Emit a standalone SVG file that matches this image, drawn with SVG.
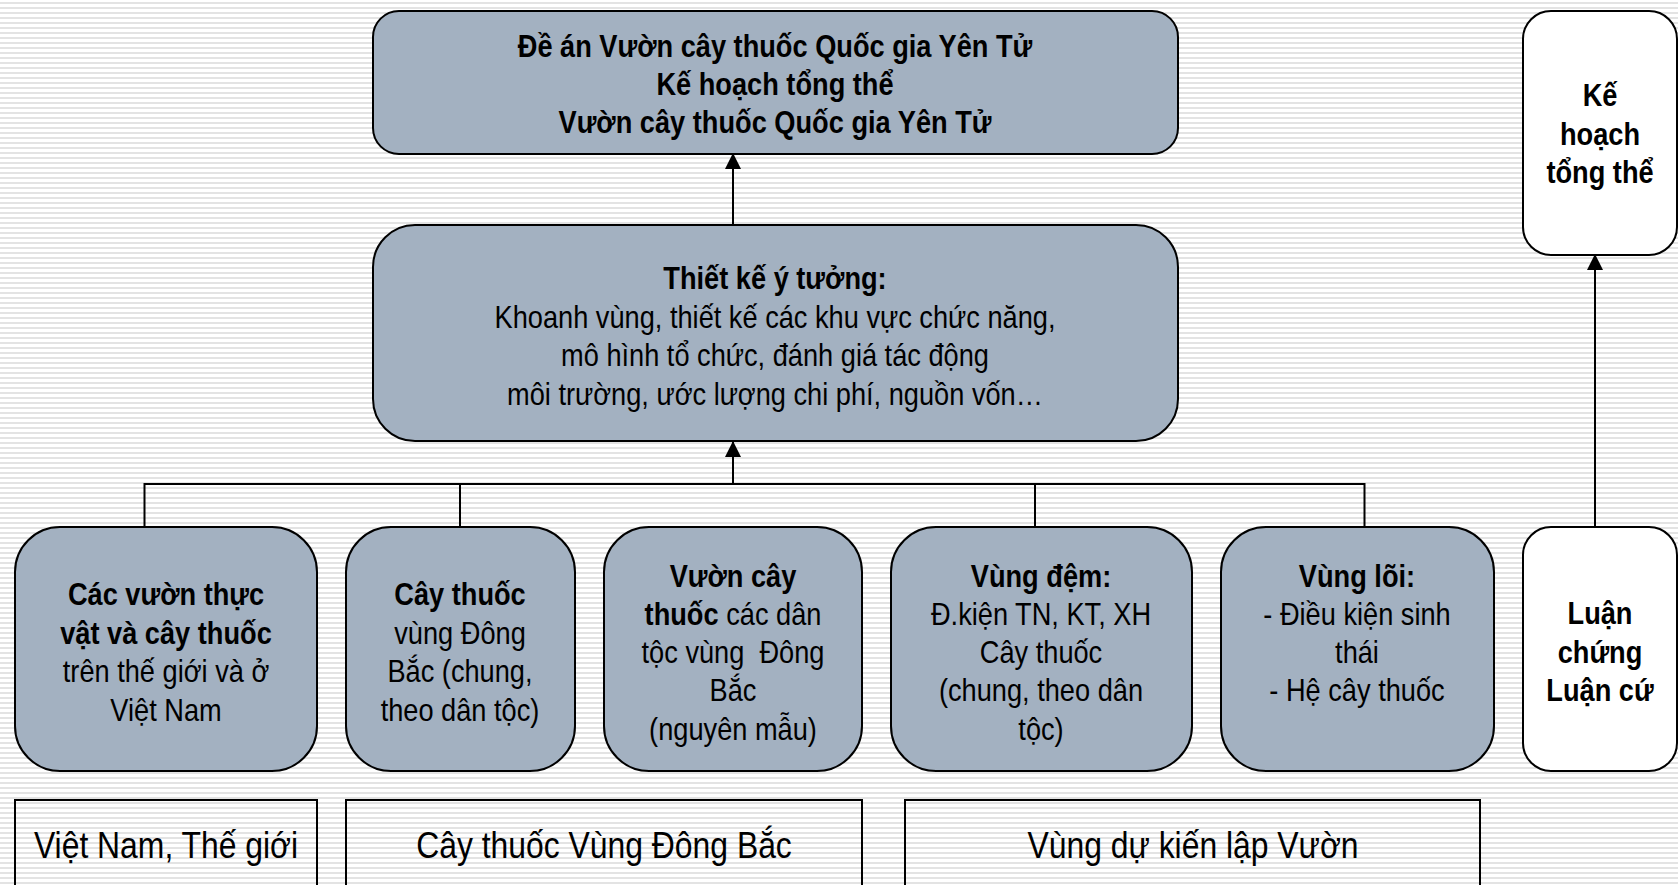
<svg xmlns="http://www.w3.org/2000/svg" width="1678" height="885" viewBox="0 0 1678 885">
<defs>
<pattern id="stripes" width="8" height="5" patternUnits="userSpaceOnUse">
<rect width="8" height="5" fill="#ffffff"/>
<rect y="2" width="8" height="2" fill="#e3e3e3"/>
</pattern>
<marker id="arr" markerUnits="userSpaceOnUse" markerWidth="16" markerHeight="16" viewBox="0 0 16 16" refX="15" refY="8" orient="auto">
<path d="M0,0 L16,8 L0,16 Z" fill="#000"/>
</marker>
<style>
.n{fill:#a3b1c1;stroke:#000;stroke-width:2}
.w{fill:#ffffff;stroke:#000;stroke-width:2}
.r{fill:none;stroke:#000;stroke-width:2}
.c{fill:none;stroke:#000;stroke-width:2}
text{font-family:"Liberation Sans Narrow","Arial Narrow","Liberation Sans",sans-serif;font-size:32px;fill:#000;text-anchor:middle}
.b{font-weight:bold}
.big{font-size:37.5px}
</style>
</defs>
<rect width="1678" height="885" fill="url(#stripes)"/>

<g id="connectors">
<path class="c" d="M733,225 V154" marker-end="url(#arr)"/>
<path class="c" d="M733,484 V442" marker-end="url(#arr)"/>
<path class="c" d="M144.5,527 V484 H1364.5 V527 M460,484 V527 M1035,484 V527"/>
<path class="c" d="M1595,527 V255" marker-end="url(#arr)"/>
</g>

<g id="top">
<rect class="n" x="373" y="11" width="805" height="143" rx="26"/>
<text class="b" transform="matrix(0.85 0 0 1 775 0)"><tspan x="0" y="57">Đề án Vườn cây thuốc Quốc gia Yên Tử</tspan><tspan x="0" y="95">Kế hoạch tổng thể</tspan><tspan x="0" y="133">Vườn cây thuốc Quốc gia Yên Tử</tspan></text>
</g>

<g id="concept">
<rect class="n" x="373" y="225" width="805" height="216" rx="42"/>
<text transform="matrix(0.85 0 0 1 775 0)"><tspan class="b" x="0" y="289">Thiết kế ý tưởng:</tspan><tspan x="0" y="328">Khoanh vùng, thiết kế các khu vực chức năng,</tspan><tspan x="0" y="366">mô hình tổ chức, đánh giá tác động</tspan><tspan x="0" y="405">môi trường, ước lượng chi phí, nguồn vốn…</tspan></text>
</g>

<g id="gardens">
<rect class="n" x="15" y="527" width="302" height="244" rx="45"/>
<text transform="matrix(0.85 0 0 1 166 0)"><tspan class="b" x="0" y="605">Các vườn thực</tspan><tspan class="b" x="0" y="644">vật và cây thuốc</tspan><tspan x="0" y="682">trên thế giới và ở</tspan><tspan x="0" y="721">Việt Nam</tspan></text>
</g>

<g id="plants-ne">
<rect class="n" x="346" y="527" width="229" height="244" rx="45"/>
<text transform="matrix(0.85 0 0 1 460 0)"><tspan class="b" x="0" y="605">Cây thuốc</tspan><tspan x="0" y="644">vùng Đông</tspan><tspan x="0" y="682">Bắc (chung,</tspan><tspan x="0" y="721">theo dân tộc)</tspan></text>
</g>

<g id="ethnic-garden">
<rect class="n" x="604" y="527" width="258" height="244" rx="45"/>
<text xml:space="preserve" transform="matrix(0.85 0 0 1 733 0)"><tspan class="b" x="0" y="587">Vườn cây</tspan><tspan x="0" y="625"><tspan class="b">thuốc</tspan> các dân</tspan><tspan x="0" y="663">tộc vùng  Đông</tspan><tspan x="0" y="701">Bắc</tspan><tspan x="0" y="740">(nguyên mẫu)</tspan></text>
</g>

<g id="buffer">
<rect class="n" x="891" y="527" width="301" height="244" rx="45"/>
<text transform="matrix(0.85 0 0 1 1041 0)"><tspan class="b" x="0" y="587">Vùng đệm:</tspan><tspan x="0" y="625">Đ.kiện TN, KT, XH</tspan><tspan x="0" y="663">Cây thuốc</tspan><tspan x="0" y="701">(chung, theo dân</tspan><tspan x="0" y="740">tộc)</tspan></text>
</g>

<g id="core">
<rect class="n" x="1221" y="527" width="273" height="244" rx="45"/>
<text transform="matrix(0.85 0 0 1 1357 0)"><tspan class="b" x="0" y="587">Vùng lõi:</tspan><tspan x="0" y="625">- Điều kiện sinh</tspan><tspan x="0" y="663">thái</tspan><tspan x="0" y="701">- Hệ cây thuốc</tspan></text>
</g>

<g id="argument">
<rect class="w" x="1523" y="527" width="154" height="244" rx="28"/>
<text class="b" transform="matrix(0.85 0 0 1 1600 0)"><tspan x="0" y="624">Luận</tspan><tspan x="0" y="663">chứng</tspan><tspan x="0" y="701">Luận cứ</tspan></text>
</g>

<g id="masterplan">
<rect class="w" x="1523" y="11" width="154" height="244" rx="28"/>
<text class="b" transform="matrix(0.85 0 0 1 1600 0)"><tspan x="0" y="106">Kế</tspan><tspan x="0" y="145">hoạch</tspan><tspan x="0" y="183">tổng thể</tspan></text>
</g>

<g id="label-vn">
<rect class="r" x="15" y="800" width="302" height="100"/>
<text class="big" transform="matrix(0.85 0 0 1 166 0)" x="0" y="858">Việt Nam, Thế giới</text>
</g>
<g id="label-ne">
<rect class="r" x="346" y="800" width="516" height="100"/>
<text class="big" transform="matrix(0.85 0 0 1 604 0)" x="0" y="858">Cây thuốc Vùng Đông Bắc</text>
</g>
<g id="label-site">
<rect class="r" x="905" y="800" width="575" height="100"/>
<text class="big" transform="matrix(0.85 0 0 1 1193 0)" x="0" y="858">Vùng dự kiến lập Vườn</text>
</g>
</svg>
